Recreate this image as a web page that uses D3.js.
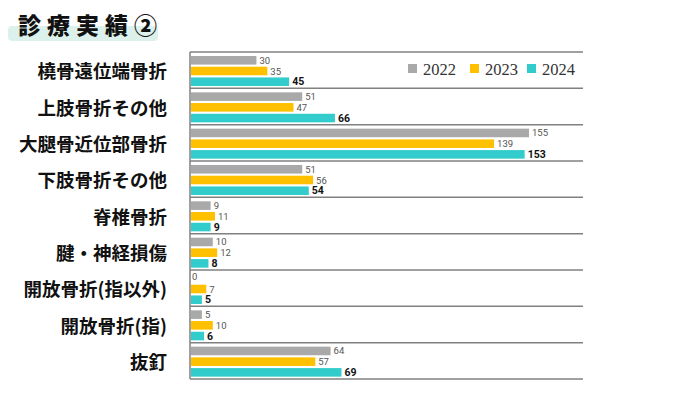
<!DOCTYPE html>
<html><head><meta charset="utf-8">
<script src="https://cdn.jsdelivr.net/npm/d3@7"></script>
<style>body{margin:0;background:#fff;} svg{display:block;}</style>
</head><body>
<svg id="c" width="700" height="393"></svg>
<script>
const categories = ["橈骨遠位端骨折","上肢骨折その他","大腿骨近位部骨折","下肢骨折その他","脊椎骨折","腱・神経損傷","開放骨折(指以外)","開放骨折(指)","抜釘"];
const years = ["2022","2023","2024"];
const v2022 = [30,51,155,51,9,10,0,5,64];
const v2023 = [35,47,139,56,11,12,7,10,57];
const v2024 = [45,66,153,54,9,8,5,6,69];
const series = [v2022, v2023, v2024];
const colors = ["#a9a9a9","#ffc000","#33cccc"];

const svg = d3.select("#c");
const pL = 190, pR = 583, pT = 52, pB = 379;

const y = d3.scaleBand().domain(categories).range([pT, pB]);
const x = d3.scaleLinear().domain([0, 155]).range([pL + 1, 529]);
const yInner = d3.scaleBand().domain(years).range([4, 34]).paddingInner(0.2);

// title highlight
svg.append("rect").attr("x",8).attr("y",26).attr("width",150).attr("height",15).attr("rx",4).attr("fill","#dcf1ec");
svg.append("text").attr("x",18).attr("y",24).text("診療実績②")
  .attr("font-family","'Noto Sans CJK JP'").attr("font-weight",900).attr("font-size",23)
  .attr("letter-spacing",6).attr("fill","#111").attr("dominant-baseline","central");

// separators
const lines = categories.map(c => y(c)).concat([pB]);
svg.selectAll("line.sep").data(lines).enter().append("line")
  .attr("x1",pL).attr("x2",pR).attr("y1",d=>d).attr("y2",d=>d)
  .attr("stroke","#808080").attr("stroke-width",1.5);
svg.append("line").attr("x1",pL).attr("x2",pL).attr("y1",pT).attr("y2",pB)
  .attr("stroke","#808080").attr("stroke-width",1.5);

// category labels
svg.selectAll("text.cat").data(categories).enter().append("text")
  .attr("x",167).attr("y",d=>y(d)+y.bandwidth()/2)
  .attr("text-anchor","end").attr("dominant-baseline","central")
  .attr("font-family","'Noto Sans CJK JP'").attr("font-weight",700).attr("font-size",18.5)
  .attr("fill","#111").text(d=>d);

// bars
series.forEach((vals, si) => {
  const g = svg.append("g");
  g.selectAll("rect").data(vals).enter().append("rect")
    .attr("x", x(0)).attr("y",(d,i)=>y(categories[i]) + yInner(years[si]))
    .attr("width", d=>x(d)-x(0)).attr("height", yInner.bandwidth())
    .attr("fill", colors[si]);
  g.selectAll("text").data(vals).enter().append("text")
    .attr("x", d=>x(d)+ (d===0?1:3)).attr("y",(d,i)=>y(categories[i]) + yInner(years[si]) + yInner.bandwidth()/2 + (d===0 && si===0 ? -2 : 0))
    .attr("dominant-baseline","central")
    .attr("font-family","'Roboto','DejaVu Sans Condensed'")
    .attr("font-size", si===2?10.5:9.5)
    .attr("font-weight", si===2?700:400)
    .attr("fill", si===2?"#111":"#555")
    .text(d=>d);
});

// legend
const legX = [408, 470, 527];
years.forEach((yr,i)=>{
  svg.append("rect").attr("x",legX[i]).attr("y",64).attr("width",9).attr("height",9).attr("fill",colors[i]);
  svg.append("text").attr("x",legX[i]+15).attr("y",69).attr("dominant-baseline","central")
    .attr("font-family","'Liberation Serif','DejaVu Serif',serif").attr("font-size",16.5).attr("fill","#333").text(yr);
});
</script>
</body></html>
